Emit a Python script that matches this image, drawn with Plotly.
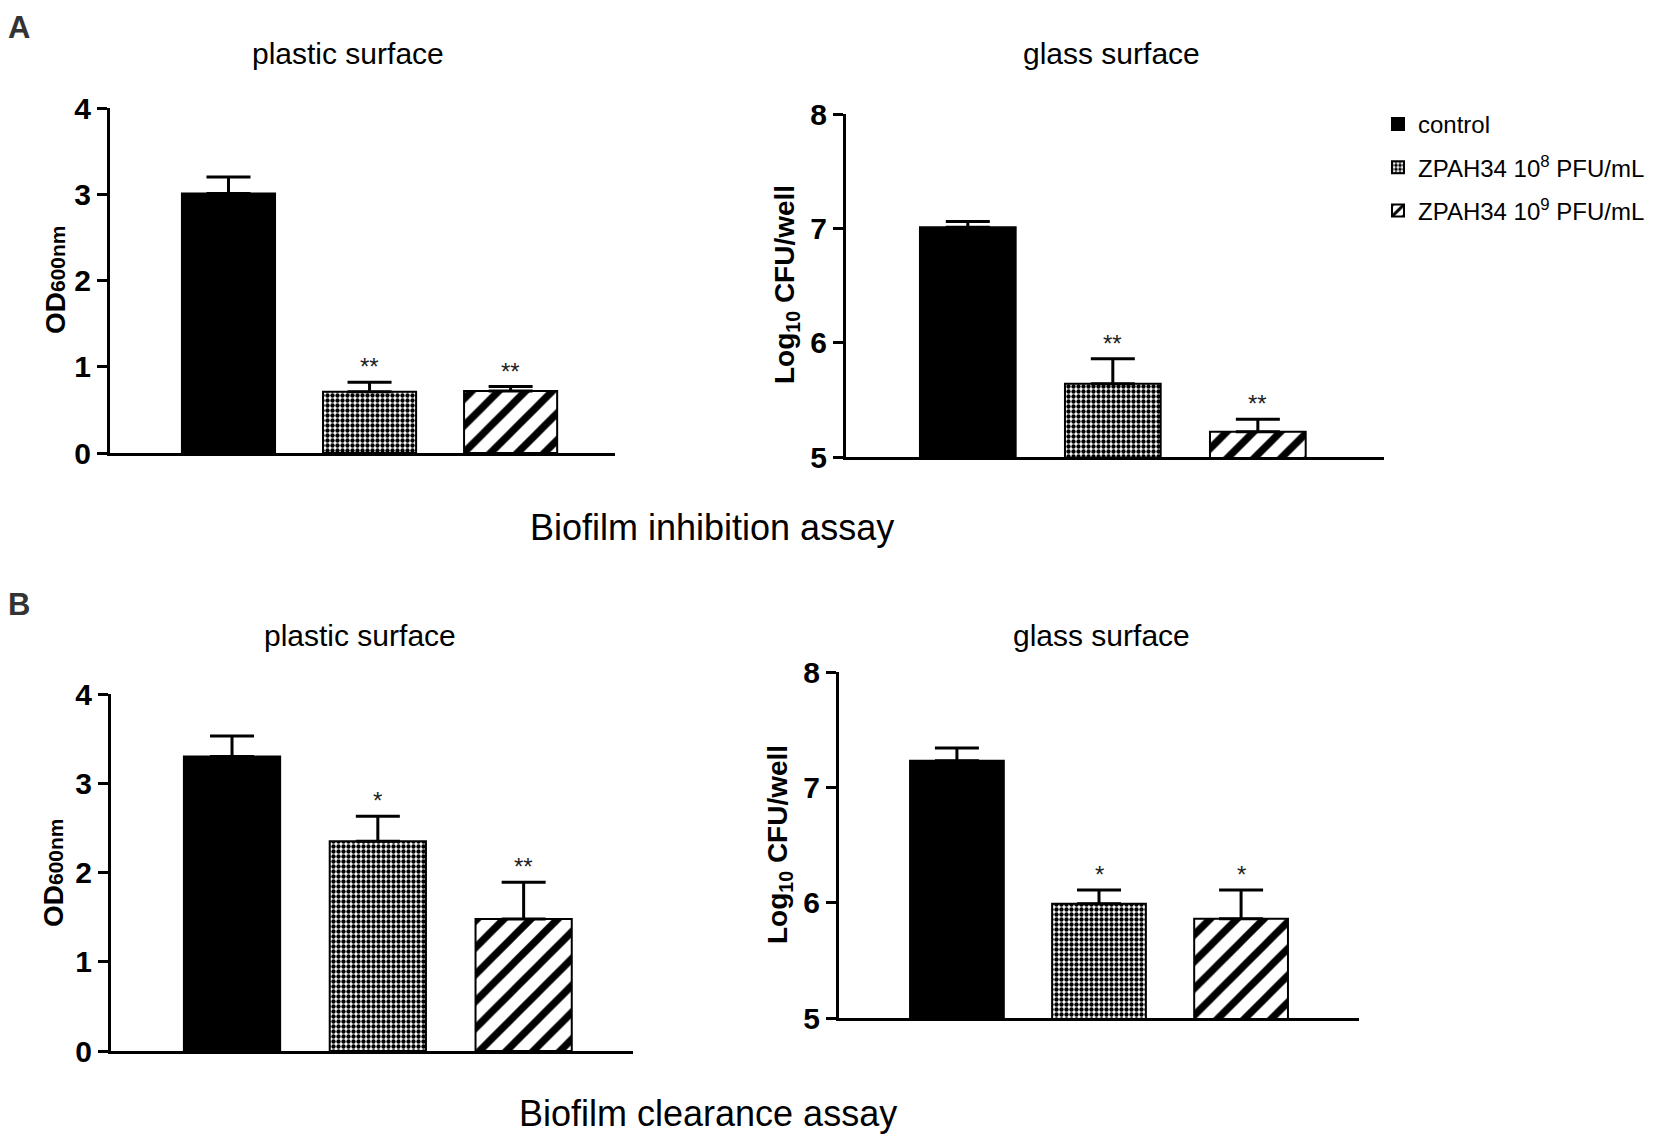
import plotly.graph_objects as go

W, H = 1654, 1141
OFF = 8  # browser body margin compensation (px)

categories = ["control", "ZPAH34 10<sup>8</sup> PFU/mL", "ZPAH34 10<sup>9</sup> PFU/mL"]

inh_plastic_mean = [3.01, 0.71, 0.72]
inh_plastic_err = [0.19, 0.11, 0.05]
inh_plastic_sig = ["", "**", "**"]

inh_glass_mean = [7.01, 5.64, 5.22]
inh_glass_err = [0.05, 0.22, 0.11]
inh_glass_sig = ["", "**", "**"]

clr_plastic_mean = [3.30, 2.35, 1.48]
clr_plastic_err = [0.23, 0.28, 0.41]
clr_plastic_sig = ["", "*", "**"]

clr_glass_mean = [7.23, 5.99, 5.86]
clr_glass_err = [0.11, 0.12, 0.25]
clr_glass_sig = ["", "*", "*"]

plastic_ticks = [0, 1, 2, 3, 4]
glass_ticks = [5, 6, 7, 8]

FONT = "Liberation Sans, Arial, sans-serif"


def px(x):
    return (x - OFF) / W


def py(y):
    return 1 - (y - OFF) / H


styles = [
    dict(color="black", line=dict(color="black", width=2), pattern=dict(shape="")),
    dict(color="white", line=dict(color="black", width=2),
         pattern=dict(shape=".", size=5, solidity=0.6, fgcolor="black", bgcolor="white", fillmode="replace")),
    dict(color="white", line=dict(color="black", width=2),
         pattern=dict(shape="/", size=19, solidity=0.38, fgcolor="black", bgcolor="white", fillmode="replace")),
]

panels = [
    dict(mean=inh_plastic_mean, err=inh_plastic_err, sig=inh_plastic_sig, ax="", ticks=plastic_ticks,
         yr=[0, 4], xr=[-0.84, 2.74], xd=[px(110), px(615)], yd=[py(453), py(108)]),
    dict(mean=inh_glass_mean, err=inh_glass_err, sig=inh_glass_sig, ax="2", ticks=glass_ticks,
         yr=[5, 8], xr=[-0.84, 2.87], xd=[px(846), px(1384)], yd=[py(457), py(114)]),
    dict(mean=clr_plastic_mean, err=clr_plastic_err, sig=clr_plastic_sig, ax="3", ticks=plastic_ticks,
         yr=[0, 4], xr=[-0.83, 2.75], xd=[px(111), px(633)], yd=[py(1051), py(694)]),
    dict(mean=clr_glass_mean, err=clr_glass_err, sig=clr_glass_sig, ax="4", ticks=glass_ticks,
         yr=[5, 8], xr=[-0.83, 2.83], xd=[px(839), px(1359)], yd=[py(1018), py(672)]),
]

fig = go.Figure()
annotations = []

for pi, p in enumerate(panels):
    for ci, cat in enumerate(categories):
        fig.add_trace(go.Bar(
            x=[ci], y=[p["mean"][ci]],
            width=0.66,
            name=cat,
            legendgroup=f"g{ci}",
            showlegend=(pi == 0),
            marker=styles[ci],
            error_y=dict(type="data", array=[p["err"][ci]], arrayminus=[0], symmetric=False,
                         color="black", thickness=3, width=22),
            xaxis="x" + p["ax"], yaxis="y" + p["ax"],
        ))
        if p["sig"][ci]:
            annotations.append(dict(
                x=ci, y=p["mean"][ci] + p["err"][ci], xref="x" + p["ax"], yref="y" + p["ax"],
                text=p["sig"][ci], showarrow=False, yanchor="bottom", yshift=0,
                font=dict(family=FONT, size=24, color="#222")))
    xa = dict(domain=p["xd"], range=p["xr"], showticklabels=False, ticks="", showgrid=False,
              zeroline=False, showline=True, linecolor="black", linewidth=3,
              anchor="y" + p["ax"], fixedrange=True, automargin=False)
    ya = dict(domain=p["yd"], range=p["yr"], tickvals=p["ticks"], ticks="outside", ticklen=10,
              tickwidth=3, tickcolor="black", showgrid=False, zeroline=False, showline=True,
              linecolor="black", linewidth=3, anchor="x" + p["ax"], automargin=False,
              tickfont=dict(family=FONT, size=30, color="black", weight="bold"), fixedrange=True)
    fig.update_layout(**{"xaxis" + p["ax"]: xa, "yaxis" + p["ax"]: ya})

# titles
title_font = dict(family=FONT, size=30, color="black")
for txt, x, y in [("plastic surface", 348, 53), ("glass surface", 1111, 53),
                  ("plastic surface", 360, 636), ("glass surface", 1101, 636)]:
    annotations.append(dict(text=txt, x=px(x), y=py(y), xref="paper", yref="paper",
                            showarrow=False, xanchor="center", yanchor="middle", font=title_font))

big_font = dict(family=FONT, size=36, color="black")
annotations.append(dict(text="Biofilm inhibition assay", x=px(712), y=py(527), xref="paper", yref="paper",
                        showarrow=False, xanchor="center", yanchor="middle", font=big_font))
annotations.append(dict(text="Biofilm clearance assay", x=px(708), y=py(1113), xref="paper", yref="paper",
                        showarrow=False, xanchor="center", yanchor="middle", font=big_font))

lab_font = dict(family=FONT, size=31, color="#333", weight="bold")
annotations.append(dict(text="A", x=px(19), y=py(27), xref="paper", yref="paper",
                        showarrow=False, xanchor="center", yanchor="middle", font=lab_font))
annotations.append(dict(text="B", x=px(19), y=py(604), xref="paper", yref="paper",
                        showarrow=False, xanchor="center", yanchor="middle", font=lab_font))

ytitle_font = dict(family=FONT, size=28, color="black", weight="bold")
od = "OD<span style='font-size:21px'>600nm</span>"
lg = "Log<sub>10</sub> CFU/well"
for txt, x, y in [(od, 55, 280), (lg, 786, 285), (od, 53, 873), (lg, 779, 845)]:
    annotations.append(dict(text=txt, x=px(x), y=py(y), xref="paper", yref="paper", textangle=-90,
                            showarrow=False, xanchor="center", yanchor="middle", font=ytitle_font))

fig.update_layout(
    width=W, height=H, autosize=False,
    margin=dict(l=0, r=0, t=0, b=0, pad=0, autoexpand=False),
    paper_bgcolor="white", plot_bgcolor="white",
    barmode="overlay",
    annotations=annotations,
    showlegend=True,
    legend=dict(x=px(1378), y=py(102), xanchor="left", yanchor="top",
                font=dict(family=FONT, size=24, color="black"),
                tracegroupgap=9, bgcolor="rgba(0,0,0,0)"),
    font=dict(family=FONT),
)

fig.write_html("out.html")
